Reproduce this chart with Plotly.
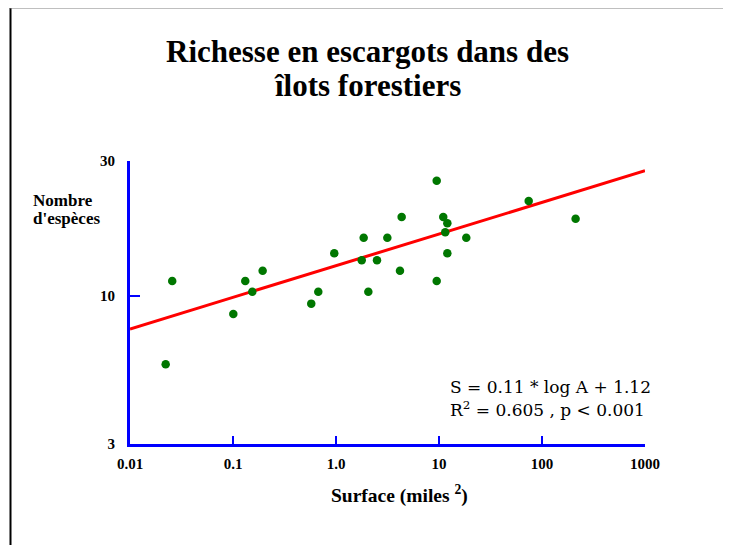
import plotly.graph_objects as go

# Data
surface = [0.0257, 0.0222, 0.1007, 0.1316, 0.154, 0.194, 0.575, 0.673, 0.962,
           1.777, 1.857, 2.06, 2.50, 3.15, 4.18, 4.34, 9.5, 9.5, 11.0, 12.05,
           11.5, 12.05, 18.4, 74.3, 212]
especes = [11.3, 5.74, 8.64, 11.3, 10.36, 12.29, 9.40, 10.36, 14.16,
           13.38, 16.07, 10.36, 13.38, 16.07, 12.29, 19.03, 25.56, 11.3, 19.03, 18.07,
           16.80, 14.16, 16.07, 21.67, 18.76]
fit_x = [0.01, 1000]
fit_y = [7.65, 27.7]

x_tickvals = [0.01, 0.1, 1, 10, 100, 1000]
x_ticktext = ["0.01", "0.1", "1.0", "10", "100", "1000"]
y_tickvals = [3, 10, 30]
y_ticktext = ["3", "10", "30"]

title_l1 = "Richesse en escargots dans des"
title_l2 = "îlots forestiers"
eq_line1 = "S = 0.11 * log A + 1.12"
eq_line2 = "R<sup>2</sup> = 0.605 , p < 0.001"

SERIF = "Liberation Serif"
BLUE = "#0000FF"

fig = go.Figure()
fig.add_trace(go.Scatter(x=fit_x, y=fit_y, mode="lines",
                         line=dict(color="#FF0000", width=3), hoverinfo="skip"))
fig.add_trace(go.Scatter(x=surface, y=especes, mode="markers",
                         marker=dict(color="#007700", size=8.5)))

OFF = 8  # page body margin
L, R, T, B = 130 - OFF, 645 - OFF, 161 - OFF, 444 - OFF
W, H = 731, 545
def px_x(p):
    return (p - OFF - L) / (R - L)
def px_y(p):
    return (B - (p - OFF)) / (B - T)

def ann(text, x, y, size, xanchor="left", bold=True, family=SERIF):
    return dict(text=text, xref="paper", yref="paper", x=px_x(x), y=px_y(y),
                xanchor=xanchor, yanchor="middle", align="left", showarrow=False,
                font=dict(family=family, size=size, color="black",
                          weight="bold" if bold else "normal"))

fig.update_layout(
    width=W, height=H,
    margin=dict(l=L, r=W - R, t=T, b=H - B),
    paper_bgcolor="white", plot_bgcolor="white",
    showlegend=False,
    xaxis=dict(type="log", range=[-2, 3], tickvals=x_tickvals, ticktext=x_ticktext,
               showgrid=False, zeroline=False, showline=True, linecolor=BLUE, linewidth=3,
               ticks="inside", ticklen=8, tickwidth=2, tickcolor=BLUE, ticklabelstandoff=4,
               tickfont=dict(family=SERIF, size=15, color="black", weight="bold")),
    yaxis=dict(type="log", range=[0.47712, 1.47712], tickvals=y_tickvals, ticktext=y_ticktext,
               showgrid=False, zeroline=False, showline=True, linecolor=BLUE, linewidth=3,
               ticks="inside", ticklen=10, tickwidth=2, tickcolor=BLUE, ticklabelstandoff=9,
               tickfont=dict(family=SERIF, size=15, color="black", weight="bold")),
    annotations=[
        ann(title_l1, 367, 52, 31, xanchor="center"),
        ann(title_l2, 367, 86, 31, xanchor="center"),
        ann("Nombre", 31, 200, 17),
        ann("d'espèces", 31, 218, 17),
        ann("Surface (miles <sup>2</sup>)", 399, 494, 19.5, xanchor="center"),
        ann(eq_line1, 448, 387, 17, bold=False, family="DejaVu Serif"),
        ann(eq_line2, 448, 409, 17, bold=False, family="DejaVu Serif"),
    ],
    shapes=[
        dict(type="line", xref="paper", yref="paper", x0=px_x(10.5), x1=px_x(10.5),
             y0=px_y(7), y1=px_y(H + OFF), line=dict(color="black", width=2)),
        dict(type="line", xref="paper", yref="paper", x0=px_x(10), x1=px_x(W + OFF),
             y0=px_y(7.5), y1=px_y(7.5), line=dict(color="#808080", width=2)),
    ],
)

fig.write_html("out.html")
